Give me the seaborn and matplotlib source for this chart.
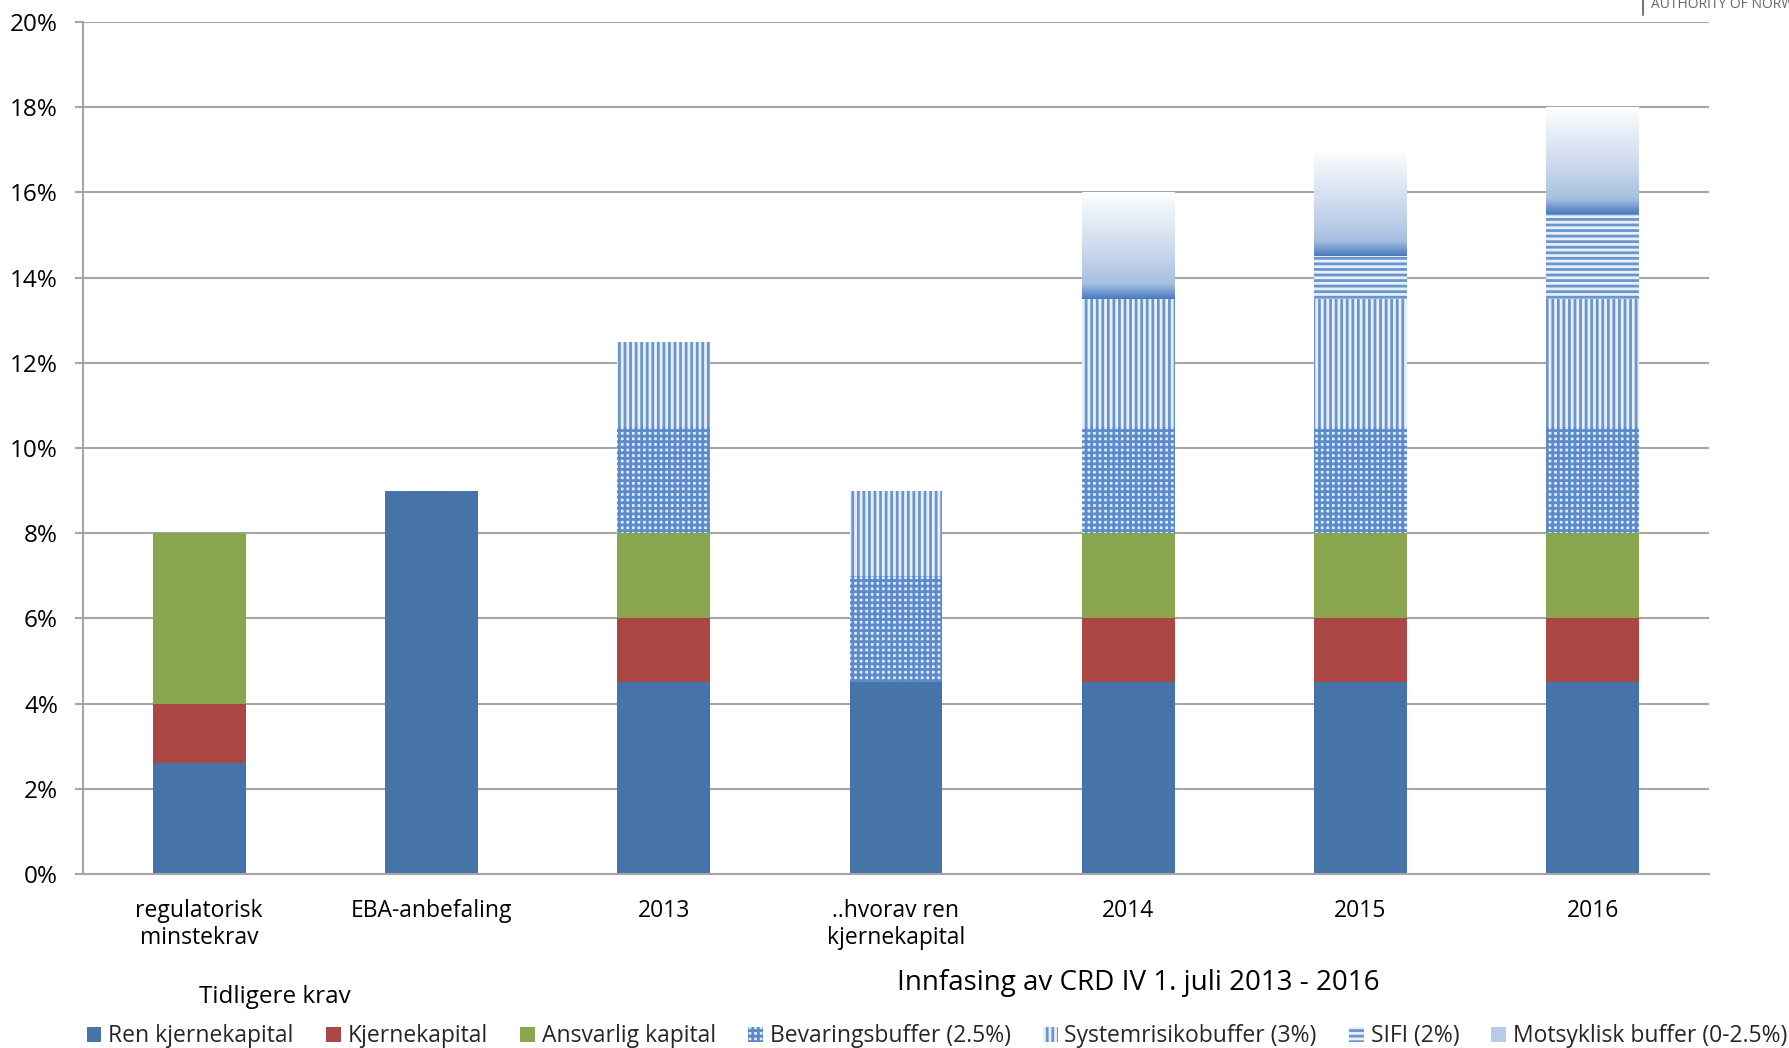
import numpy as np
import matplotlib
matplotlib.use("Agg")
import matplotlib.pyplot as plt
import seaborn as sns
from matplotlib.colors import LinearSegmentedColormap
from matplotlib.patches import Patch
from matplotlib.ticker import FuncFormatter

# Capital requirements (% of risk-weighted assets)
categories = ["regulatorisk\nminstekrav", "EBA-anbefaling", "2013",
              "..hvorav ren\nkjernekapital", "2014", "2015", "2016"]
ren_kjernekapital = [2.6, 9.0, 4.5, 4.5, 4.5, 4.5, 4.5]
kjernekapital = [1.4, 0.0, 1.5, 0.0, 1.5, 1.5, 1.5]
ansvarlig_kapital = [4.0, 0.0, 2.0, 0.0, 2.0, 2.0, 2.0]
bevaringsbuffer = [0.0, 0.0, 2.5, 2.5, 2.5, 2.5, 2.5]
systemrisikobuffer = [0.0, 0.0, 2.0, 2.0, 3.0, 3.0, 3.0]
sifi = [0.0, 0.0, 0.0, 0.0, 0.0, 1.0, 2.0]
motsyklisk_buffer = [0.0, 0.0, 0.0, 0.0, 2.5, 2.5, 2.5]

series_labels = ["Ren kjernekapital", "Kjernekapital", "Ansvarlig kapital",
                 "Bevaringsbuffer (2.5%)", "Systemrisikobuffer (3%)",
                 "SIFI (2%)", "Motsyklisk buffer (0-2.5%)"]
group_labels = ["Tidligere krav", "Innfasing av CRD IV 1. juli 2013 - 2016"]
y_ticks = [0, 2, 4, 6, 8, 10, 12, 14, 16, 18, 20]

sns.set_theme(style="white")
plt.rcParams["font.family"] = ["Open Sans", "DejaVu Sans"]
plt.rcParams["hatch.linewidth"] = 2.0

fig = plt.figure(figsize=(17.9, 10.48), dpi=100)
ax = fig.add_axes([0.0464, 0.166, 0.9083, 0.813])

series = [ren_kjernekapital, kjernekapital, ansvarlig_kapital, bevaringsbuffer,
          systemrisikobuffer, sifi, motsyklisk_buffer]
cum = np.cumsum(np.array(series), axis=0)

# fill styles per layer: face, hatch colour, hatch
styles = [
    dict(face="#4673a8", edge="#4673a8", hatch=None),
    dict(face="#aa4644", edge="#aa4644", hatch=None),
    dict(face="#89a54e", edge="#89a54e", hatch=None),
    dict(face="#e2ebf7", edge="#5b8bcb", hatch="+++"),
    dict(face="#e8eff8", edge="#6a96cf", hatch="|||"),
    dict(face="#e8eff8", edge="#6a96cf", hatch="---"),
    dict(face="none", edge="none", hatch=None),
]

# stacked bars: draw cumulative totals from the top layer down
layer_bars = {}
for i in range(len(series) - 1, -1, -1):
    st = styles[i]
    sns.barplot(x=categories, y=cum[i], ax=ax, width=0.4, saturation=1,
                errorbar=None, color=st["face"] if st["face"] != "none" else "white",
                linewidth=0, zorder=2 + (len(series) - i) * 0.01)
    cont = ax.containers[-1]
    for p in cont.patches:
        p.set_facecolor(st["face"])
        p.set_edgecolor(st["edge"])
        p.set_linewidth(0)
        if st["hatch"]:
            p.set_hatch(st["hatch"])
    layer_bars[i] = cont.patches

# gradient fill for the countercyclical buffer
grad_cmap = LinearSegmentedColormap.from_list(
    "motsyklisk",
    [(0.0, "#4a7bbd"), (0.06, "#6f97ce"), (0.14, "#a6bfe1"),
     (0.4, "#c6d5eb"), (0.8, "#eaf0f8"), (1.0, "#ffffff")])
grad = np.linspace(0, 1, 256).reshape(-1, 1)
for j, p in enumerate(layer_bars[6]):
    if motsyklisk_buffer[j] > 0:
        x0, w = p.get_x(), p.get_width()
        ax.imshow(grad, extent=(x0, x0 + w, cum[5][j], cum[6][j]), origin="lower",
                  cmap=grad_cmap, aspect="auto", interpolation="bicubic", zorder=1.9)

ax.set_xlim(-0.5, len(categories) - 0.5)
ax.set_ylim(0, 20)
ax.set_yticks(y_ticks)
ax.yaxis.set_major_formatter(FuncFormatter(lambda v, _: f"{v:.0f}%"))
ax.set_axisbelow(True)
ax.yaxis.grid(True, color="#a6a6a6", linewidth=1.5)
ax.xaxis.grid(False)
for s in ["top", "right"]:
    ax.spines[s].set_visible(False)
for s in ["left", "bottom"]:
    ax.spines[s].set_color("#a6a6a6")
    ax.spines[s].set_linewidth(1.5)
ax.tick_params(axis="y", left=True, length=6, width=1.5, color="#a6a6a6",
               pad=12, labelsize=17.5, labelcolor="black")
ax.tick_params(axis="x", bottom=False, length=0, pad=18, labelsize=16.5,
               labelcolor="black")
for t in ax.get_xticklabels():
    t.set_linespacing(1.15)
ax.set_xlabel("")
ax.set_ylabel("")

fig.text(275 / 1790, 1 - 997 / 1048, group_labels[0], ha="center", va="center",
         fontsize=17.5, color="black")
fig.text(1138 / 1790, 1 - 983 / 1048, group_labels[1], ha="center", va="center",
         fontsize=20, color="black")

# legend
handles = []
for i, st in enumerate(styles):
    if i == 6:
        handles.append(Patch(facecolor="#b7cbe7", edgecolor="none"))
    else:
        handles.append(Patch(facecolor=st["face"], edgecolor=st["edge"],
                             hatch=st["hatch"], linewidth=0))
fig.legend(handles, series_labels, loc="center", bbox_to_anchor=(0.5235, 0.011),
           ncol=7, frameon=False, fontsize=16.5, handlelength=0.65, handleheight=0.65,
           handletextpad=0.3, columnspacing=1.4, borderaxespad=0, borderpad=0)

# corner logo remnant
fig.add_artist(plt.Line2D([1643 / 1790, 1643 / 1790], [1 - 15 / 1048, 1.0],
                          transform=fig.transFigure, color="#777777", lw=1.5))
fig.text(1651 / 1790, 1 - 8 / 1048, "AUTHORITY OF NORWAY", ha="left", va="baseline",
         fontsize=10, color="#666666")

fig.savefig("out.png", dpi=100)
